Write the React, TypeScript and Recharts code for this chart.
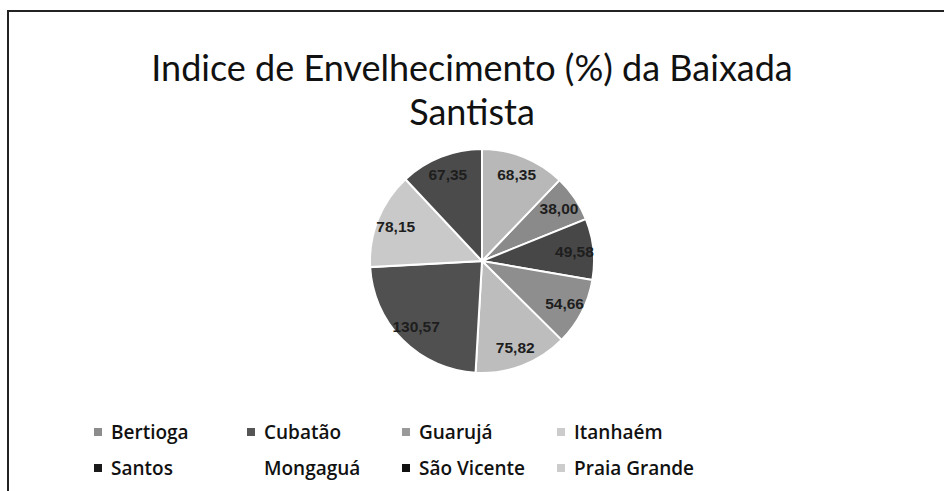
import { PieChart, Pie, Cell, Legend } from 'recharts';

const municipios = ['Bertioga', 'Cubatão', 'Guarujá', 'Itanhaém', 'Santos', 'Mongaguá', 'São Vicente', 'Praia Grande'];
const indices = [38.0, 49.58, 54.66, 75.82, 130.57, 78.15, 67.35, 68.35];
const sliceColors = ['#8a8a8a', '#474747', '#8e8e8e', '#bdbdbd', '#505050', '#c9c9c9', '#4b4b4b', '#b8b8b8'];
const legendColors = ['#8c8c8c', '#555555', '#999999', '#cccccc', '#1a1a1a', '#ffffff', '#111111', '#cccccc'];

const data = municipios.map((nome, i) => ({ nome, valor: indices[i] }));

const total = indices.reduce((s, v) => s + v, 0);
// primeira fatia começa depois de "Praia Grande" (último ponto termina no topo)
const firstAngle = (indices[indices.length - 1] / total) * 360;
const START = 90 - firstAngle;

const RAD = Math.PI / 180;

const renderLabel = (props: any) => {
  const { cx, cy, midAngle, outerRadius, index } = props;
  const r = outerRadius * 0.83;
  const x = cx + r * Math.cos(-midAngle * RAD);
  const y = cy + r * Math.sin(-midAngle * RAD);
  return (
    <text
      x={x}
      y={y}
      fill="#1e1e1e"
      textAnchor="middle"
      dominantBaseline="central"
      style={{ fontFamily: 'Liberation Sans, Arial, sans-serif', fontSize: 15.5, fontWeight: 'bold' }}
    >
      {indices[index].toFixed(2).replace('.', ',')}
    </text>
  );
};

const renderLegend = () => (
  <div
    style={{
      display: 'grid',
      gridTemplateColumns: '153px 155px 155px 160px',
      rowGap: 12,
      fontFamily: 'Open Sans, sans-serif',
      fontSize: 19,
      fontWeight: 600,
      color: '#111',
    }}
  >
    {municipios.map((nome, i) => (
      <div key={nome} style={{ display: 'flex', alignItems: 'center', height: 24 }}>
        <span style={{ display: 'inline-block', width: 8, height: 8, background: legendColors[i], marginRight: 9 }} />
        {nome}
      </div>
    ))}
  </div>
);

export default function App() {
  return (
    <div style={{ position: 'absolute', left: 0, top: 0, width: 944, height: 491, background: '#fff', overflow: 'hidden' }}>
      {/* moldura */}
      <div style={{ position: 'absolute', left: 7, top: 10, width: 950, height: 500, borderTop: '2px solid #222', borderLeft: '2px solid #222' }} />

      <div
        style={{
          position: 'absolute',
          left: 0,
          top: 45,
          width: 944,
          textAlign: 'center',
          fontFamily: 'Lato, sans-serif',
          fontSize: 36,
          lineHeight: '44px',
          color: '#111',
        }}
      >
        <div>Indice de Envelhecimento (%) da Baixada</div>
        <div>Santista</div>
      </div>

      <PieChart width={944} height={491} style={{ position: 'absolute', left: 0, top: 0 }}>
        <Pie
          data={data}
          dataKey="valor"
          nameKey="nome"
          cx={477}
          cy={256}
          outerRadius={112}
          startAngle={START}
          endAngle={START - 360}
          stroke="#ffffff"
          strokeWidth={2}
          label={renderLabel}
          labelLine={false}
          isAnimationActive={false}
        >
          {data.map((d, i) => (
            <Cell key={d.nome} fill={sliceColors[i]} />
          ))}
        </Pie>
        <Legend
          content={renderLegend}
          wrapperStyle={{ position: 'absolute', left: 94, top: 420, width: 700 }}
        />
      </PieChart>
    </div>
  );
}
